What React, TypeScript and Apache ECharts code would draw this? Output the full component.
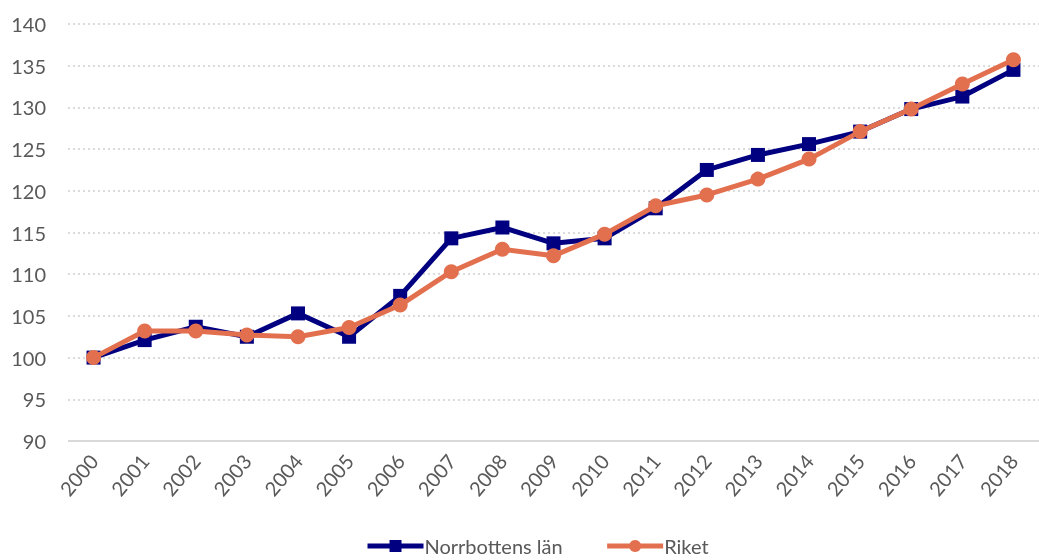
import React, { useEffect, useRef } from "react";
import * as echarts from "echarts";

const years = ["2000","2001","2002","2003","2004","2005","2006","2007","2008","2009","2010","2011","2012","2013","2014","2015","2016","2017","2018"];
const norrbotten = [100, 102.1, 103.7, 102.5, 105.3, 102.5, 107.4, 114.3, 115.6, 113.7, 114.3, 117.9, 122.5, 124.3, 125.6, 127.1, 129.8, 131.3, 134.5];
const riket = [100, 103.2, 103.2, 102.7, 102.5, 103.6, 106.3, 110.3, 113.0, 112.2, 114.8, 118.2, 119.5, 121.4, 123.8, 127.1, 129.8, 132.8, 135.7];

const NAVY = "#000080";
const ORANGE = "#E2704F";
const FONT = "Lato, 'Open Sans', sans-serif";

export default function App() {
  const ref = useRef<HTMLDivElement>(null);
  useEffect(() => {
    if (!ref.current) return;
    const chart = echarts.init(ref.current, null, { renderer: "svg" });
    chart.setOption({
      animation: false,
      textStyle: { fontFamily: FONT },
      grid: { left: 68, right: -2, top: 24, bottom: 119, containLabel: false },
      legend: {
        bottom: -1,
        left: 360,
        itemWidth: 56,
        itemHeight: 15,
        itemGap: 42,
        lineStyle: { width: 5 },
        textStyle: { fontSize: 20, color: "#595959", fontFamily: FONT, padding: [0, 0, 0, -4] },
        data: ["Norrbottens län", "Riket"],
      },
      xAxis: {
        type: "category",
        data: years,
        boundaryGap: true,
        axisLine: { show: false },
        axisTick: { show: false },
        axisLabel: { rotate: 50, fontSize: 20, color: "#595959", margin: 16, interval: 0, fontFamily: FONT },
      },
      yAxis: {
        type: "value",
        min: 90,
        max: 140,
        interval: 5,
        axisLine: { show: false },
        axisTick: { show: false },
        axisLabel: { fontSize: 20, color: "#595959", margin: 22, fontFamily: FONT },
        splitLine: { lineStyle: { color: "#D0D0D0", type: [2, 3], width: 1.5 } },
      },
      series: [
        {
          name: "Norrbottens län",
          type: "line",
          data: norrbotten,
          color: NAVY,
          lineStyle: { width: 5, color: NAVY },
          symbol: "rect",
          symbolSize: 14,
          itemStyle: { color: NAVY },
          z: 2,
        },
        {
          name: "Riket",
          type: "line",
          data: riket,
          color: ORANGE,
          lineStyle: { width: 5, color: ORANGE },
          symbol: "circle",
          symbolSize: 15,
          itemStyle: { color: ORANGE },
          z: 3,
        },
      ],
      graphic: [
        {
          type: "line",
          shape: { x1: 68, y1: 441, x2: 1039, y2: 441 },
          style: { stroke: "#D9D9D9", lineWidth: 2 },
          z: 1,
        },
      ],
    });
    return () => chart.dispose();
  }, []);
  return <div ref={ref} style={{ position: "fixed", left: 0, top: 0, width: 1039, height: 560 }} />;
}
